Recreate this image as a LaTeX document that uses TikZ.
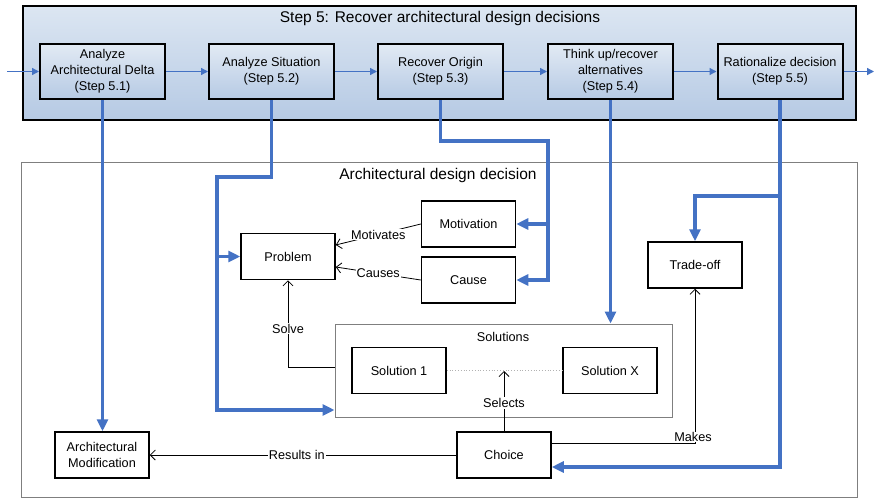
\documentclass[tikz,border=0pt]{standalone}
\usepackage{fontspec}
\setmainfont{Liberation Sans}
\usetikzlibrary{arrows.meta,calc}
\definecolor{bl}{HTML}{4472C4}
\definecolor{boxtop}{HTML}{E2EAF4}
\definecolor{boxbot}{HTML}{B6CAE4}
\definecolor{frametop}{HTML}{DCE6F2}
\definecolor{framebot}{HTML}{B6CAE4}
\definecolor{frgray}{HTML}{7F7F7F}
\newcommand\myfs{\fontsize{12.7pt}{16pt}\selectfont}
\newcommand\mytitlefs{\fontsize{15.5pt}{18pt}\selectfont}
\begin{document}
\begin{tikzpicture}[x=1pt,y=-1pt,
  stepbox/.style={draw, line width=2pt, top color=boxtop, bottom color=boxbot,
    minimum width=125pt, minimum height=55pt, inner sep=0pt, align=center, font=\myfs},
  ent/.style={draw, line width=1.5pt, fill=white, minimum width=94pt, minimum height=46pt,
    inner sep=0pt, align=center, font=\myfs},
  bigflow/.style={draw=bl, line width=3.5pt, line join=miter, -{Triangle[length=12pt,width=11pt]}},
  bigline/.style={draw=bl, line width=3.5pt, line join=miter},
  smallflow/.style={draw=bl, line width=1.3pt, -{Triangle[length=7pt,width=7pt]}},
  rel/.style={draw, line width=0.8pt, -{Straight Barb[length=5pt,width=10pt,line width=0.8pt]}},
  lbl/.style={fill=white, inner sep=1pt, font=\myfs},
]
\useasboundingbox (0,0) rectangle (877,498);

% frames
\node[draw, line width=2pt, top color=frametop, bottom color=framebot,
  minimum width=833pt, minimum height=114pt, inner sep=0pt] (frame) at (439.5,63) {};
\node[font=\mytitlefs] (title) at (440,18) {Step 5: Recover architectural design decisions};
\node[draw=frgray, line width=1pt, minimum width=836pt, minimum height=335pt, inner sep=0pt] (add) at (439,329.5) {};
\node[font=\mytitlefs] (addtitle) at (438,175) {Architectural design decision};

% step boxes
\node[stepbox] (s1) at (102.5,71.5) {Analyze\\Architectural Delta\\(Step 5.1)};
\node[stepbox] (s2) at (271.5,71.5) {Analyze Situation\\(Step 5.2)};
\node[stepbox] (s3) at (440.5,71.5) {Recover Origin\\(Step 5.3)};
\node[stepbox] (s4) at (610.5,71.5) {Think up/recover\\alternatives\\(Step 5.4)};
\node[stepbox] (s5) at (780,71.5) {Rationalize decision\\(Step 5.5)};

\coordinate (in) at (7,71.5);
\coordinate (out) at (874,71.5);
\draw[smallflow] (in) -- (s1.west);
\draw[smallflow] (s1) -- (s2);
\draw[smallflow] (s2) -- (s3);
\draw[smallflow] (s3) -- (s4);
\draw[smallflow] (s4) -- (s5);
\draw[smallflow] (s5.east) -- (out);

% entities
\node[ent] (prob) at (288,256.5) {Problem};
\node[ent] (mot) at (468.5,224) {Motivation};
\node[ent] (cause) at (468.5,280) {Cause};
\node[ent] (trade) at (695,265) {Trade-off};
\node[draw=frgray, line width=1pt, fill=white, minimum width=337pt, minimum height=93pt, inner sep=0pt] (sols) at (503.5,370.5) {};
\node[font=\myfs] (solstitle) at (503,337) {Solutions};
\node[ent] (sol1) at (399,370.5) {Solution 1};
\node[ent] (solx) at (610,370.5) {Solution X};
\node[ent] (choice) at (504,455) {Choice};
\node[ent] (am) at (102,455) {Architectural\\Modification};

% thin relations
\draw[gray!60, line width=0.8pt, dotted] (sol1.east) -- (solx.west);
\draw[rel] (mot.west) -- node[lbl] {Motivates} ([yshift=11.5pt]prob.east);
\draw[rel] (cause.west) -- node[lbl] {Causes} ([yshift=-10.5pt]prob.east);
\draw[rel] ([yshift=3.5pt]sols.west) -| node[lbl, pos=0.72] {Solve} (prob.south);
\coordinate (selpt) at (504,371);
\draw[rel] (choice.north) -- node[lbl, pos=0.47] {Selects} (selpt);
\draw[rel] (choice.west) -- node[lbl, pos=0.52] {Results in} (am.east);
\draw[rel] ([yshift=12pt]choice.east) -| (trade.south);
\node[lbl, inner sep=0.5pt] (makes) at (693,437) {Makes};

% blue flows
\coordinate (a1) at (271.5,177);
\coordinate (a2) at (217,177);
\coordinate (a3) at (217,410);
\coordinate (a4) at (217,256.5);
\draw[bigflow] (s1.south) -- (s1.south |- am.north);
\draw[bigflow] (s2.south) -- (a1) -- (a2) -- (a3) -- (sols.west |- a3);
\draw[bigflow] (a4) -- (prob.west);

\coordinate (b1) at (440.5,141);
\coordinate (b2) at (548,141);
\coordinate (b3) at (548,280);
\coordinate (b4) at (548,224);
\draw[bigflow] (s3.south) -- (b1) -- (b2) -- (b3) -- (cause.east);
\draw[bigflow] (b4) -- (mot.east);

\draw[bigflow] (s4.south) -- (s4.south |- sols.north);

\coordinate (c1) at (780,467);
\coordinate (c2) at (780,196);
\coordinate (c3) at (695,196);
\draw[bigflow] (s5.south) -- (c1) -- (choice.east |- c1);
\draw[bigflow] (c2) -- (c3) -- (trade.north);
\end{tikzpicture}
\end{document}
